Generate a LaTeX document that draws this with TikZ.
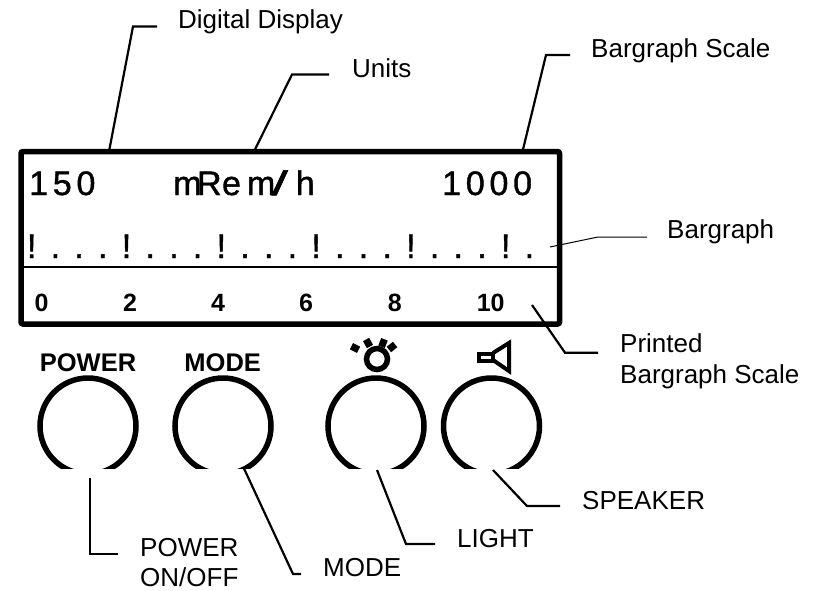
\documentclass[tikz,border=0pt]{standalone}
\usepackage{fontspec}
\setmainfont{Liberation Sans}
\newfontfamily\lcdfont[LetterSpace=14,FakeBold=1.2]{Liberation Sans}
\newfontfamily\unitfont[FakeBold=1.2]{Liberation Sans}
\usetikzlibrary{calc}
\tikzset{
  callout/.style={anchor=base west, inner sep=0pt, align=left, font=\fontsize{26}{30.5}\selectfont},
  tightcallout/.style={callout, anchor=west, font=\fontsize{26}{29.5}\selectfont},
  leader/.style={line width=2.2pt, line join=miter},
  keylabel/.style={anchor=base, inner sep=0pt, font=\fontsize{25.5}{30}\selectfont\bfseries},
  scalenum/.style={anchor=base, inner sep=0pt, font=\fontsize{25}{30}\selectfont\bfseries},
  reading/.style={anchor=base west, inner sep=0pt, font=\fontsize{34}{36}\selectfont},
  tickmark/.style={anchor=base, inner sep=0pt, font=\fontsize{34}{36}\selectfont\unitfont},
  knob/.style={circle, draw, line width=5.5pt, minimum size=96pt, inner sep=0pt, outer sep=0pt},
  sunray/.style={fill=black, minimum width=8pt, minimum height=7pt, inner sep=0pt},
}

\begin{document}
\begin{tikzpicture}[x=1pt, y=-1pt]
  \useasboundingbox (0,0) rectangle (820,590);

  % display window
  \node[draw, line width=5.5pt, rounded corners=2pt, outer sep=0pt, minimum width=538.5pt, minimum height=172.5pt, inner sep=0pt] (display) at (290.25,237.75) {};
  \coordinate (divleft) at (21,267);
  \draw[line width=2.2pt] (divleft) -- (divleft -| display.east);

  \node[reading] (low) at (29,195) {\lcdfont 150};
  \node[reading] (units) at (173,195) {\unitfont m\kern-4.5pt R\kern.5pt e\kern6pt m\kern-3.5pt \scalebox{1.7}[1]{/}\kern8pt h};
  \node[reading] (high) at (442,195) {\lcdfont 1000};

  % bargraph segments
  \foreach \i in {0,4,...,20}
    \node[tickmark] (bar\i) at (31.7+23.7*\i,258) {!};
  \foreach \i in {1,2,3,5,6,7,9,10,11,13,14,15,17,18,19,21}
    \node[tickmark] (bar\i) at (31.7+23.7*\i,258) {.};

  % printed scale
  \foreach \v/\x in {0/41.7,2/130,4/218,6/306,8/394.7,10/490.7}
    \node[scalenum] (print\v) at (\x,311.7) {\v};

  % buttons
  \begin{scope}
    \clip (0,0) rectangle (820,468);
    \node[knob] (power) at (88,426) {};
    \node[knob] (mode) at (223,426) {};
    \node[knob] (light) at (376,426) {};
    \node[knob] (speaker) at (491.5,426) {};
  \end{scope}
  \node[keylabel] (powerkey) at (88,371) {POWER};
  \node[keylabel] (modekey) at (222.7,371) {MODE};

  % light icon
  \node[circle, draw, line width=5.5pt, minimum size=21pt, inner sep=0pt] (lamp) at (377,359) {};
  \foreach \n/\x/\y/\a in {a/355/348/-27, b/368/343/-61, c/383/343/-111, d/392/347/-141}
    \node[sunray, rotate=\a] (ray\n) at (\x,\y) {};

  % speaker icon
  \draw[line width=4pt] (478.5,353.5) rectangle (493,360.5);
  \draw[line width=4pt, line join=miter] (493,353) -- (509,343) -- (509,371) -- (493,360);

  % callouts
  \node[callout] (digital) at (178,28) {Digital Display};
  \draw[leader] ($(display.north west)+(88,0)$) -- (133,26.5) -- ($(digital.base west)+(-21,-1.5)$);

  \node[callout] (unitslabel) at (352,77) {Units};
  \draw[leader] ($(display.north west)+(233,0)$) -- (292,74.5) -- ($(unitslabel.base west)+(-23,-2.5)$);

  \node[callout] (bgscale) at (591,57) {Bargraph Scale};
  \draw[leader] ($(display.north west)+(501.5,0)$) -- (546,55) -- ($(bgscale.base west)+(-21,-2)$);

  \node[callout] (bargraph) at (667,238) {Bargraph};
  \draw[line width=1pt] ($(bar21.base)+(20.6,-11)$) -- (598,237) -- ($(bargraph.base west)+(-20,-1)$);

  \node[callout, anchor=west] (printed) at (620,361.5) {Printed\\Bargraph Scale};
  \draw[leader] ($(display.south east)+(-27.5,-19)$) -- (565,352.7) -- ($(printed.west)+(-22,-8.8)$);

  \node[callout] (speakerlabel) at (582,509) {SPEAKER};
  \draw[leader] ($(speaker.south)+(1.5,-4)$) -- (527,506) -- ($(speakerlabel.base west)+(-22,-3)$);

  \node[callout] (lightlabel) at (457,547) {LIGHT};
  \draw[leader] ($(light.south)+(1,-4)$) -- (406,544) -- ($(lightlabel.base west)+(-22,-3)$);

  \node[callout] (modelabel) at (323,576) {MODE};
  \draw[leader] ($(mode.south)+(21,-5.5)$) -- (293,574) -- ($(modelabel.base west)+(-22,-2)$);

  \node[tightcallout] (powerlabel) at (140,562.5) {POWER\\ON/OFF};
  \draw[leader] ($(power.south)+(2,4)$) -- (90,554) -- ($(powerlabel.west)+(-22,-8.5)$);
\end{tikzpicture}
\end{document}
